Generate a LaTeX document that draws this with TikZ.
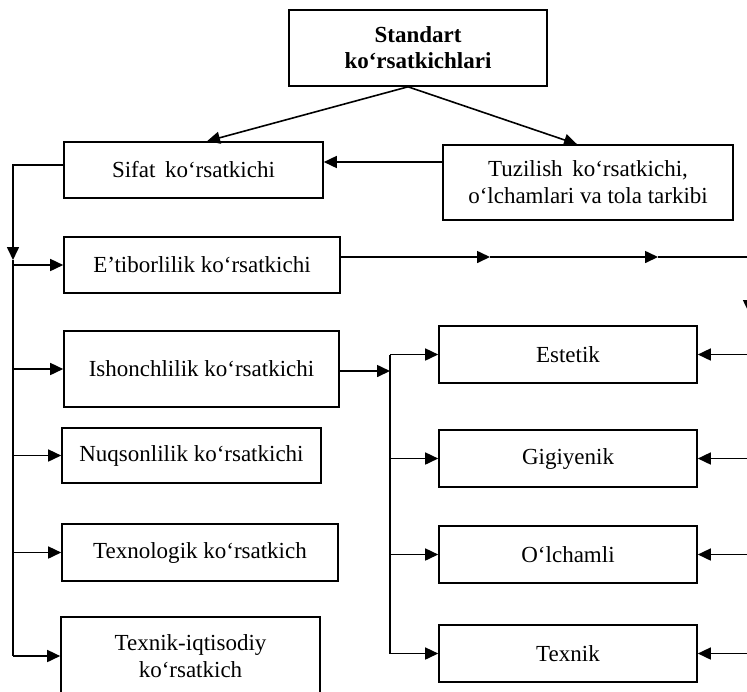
\documentclass[tikz,border=0pt]{standalone}
\usepackage{fontspec}
\setmainfont{Liberation Serif}
\usetikzlibrary{calc,arrows.meta}

\begin{document}
\begin{tikzpicture}[x=0.5pt,y=-0.5pt,line width=0.8pt,
	every node/.style={draw,rectangle,inner sep=0pt,align=center,font=\fontsize{11.5}{13.5}\selectfont},
	arr/.style={-{Triangle[length=6.5pt,width=6pt]}}]
				\useasboundingbox (0,0) rectangle (747,691);
				\clip (0,0) rectangle (747,691);
				%top box and the two boxes under it placed by hand
				\node[minimum width=129pt,minimum height=38pt,font=\fontsize{11.5}{13}\selectfont\bfseries] (st) at (418,48){Standart\\ko‘rsatkichlari};
				\node[minimum width=129.5pt,minimum height=28pt] (sif) at (193.5,170){Sifat\, ko‘rsatkichi};
				\node[minimum width=145pt,minimum height=37.5pt] (tuz) at (588,182.5){Tuzilish\, ko‘rsatkichi,\\o‘lchamlari va tola tarkibi};
				%% left column
				\node[minimum width=138pt,minimum height=28pt] (etib) at (202,265){E’tiborlilik ko‘rsatkichi};
				\node[minimum width=137.5pt,minimum height=38pt] (ish) at (201.5,369){Ishonchlilik ko‘rsatkichi};
				\node[minimum width=129.5pt,minimum height=27.5pt] (nuq) at (191.5,455.5){Nuqsonlilik ko‘rsatkichi};
				\node[minimum width=138pt,minimum height=28.5pt] (txl) at (200,552.5){Texnologik ko‘rsatkich};
				\node[minimum width=129.5pt,minimum height=39.5pt] (txq) at (190.5,656.5){Texnik-iqtisodiy\\ko‘rsatkich};
				%% right column drawn with a loop
				\foreach \n/\t/\y in {est/Estetik/354.5,gig/Gigiyenik/458.5,olch/O‘lchamli/554.5,tex/Texnik/653.5}{
					\node[minimum width=129pt,minimum height=28.5pt] (\n) at (568,\y){\t};
					}
				%% trunk points of the branching lines
				\coordinate (lk) at (13,656);
				\coordinate (ik) at (390,371);
				\coordinate (rk) at (749,257);
				\coordinate (m1) at (490,257);
				\coordinate (m2) at (658,257);
				%% arrows from the top box
				\draw[arr] ([xshift=-5pt]st.south) -- ([xshift=6.75pt]sif.north);
				\draw[arr] ([xshift=-5pt]st.south) -- ([xshift=-5.5pt]tuz.north);
				\draw[arr] ([yshift=10.25pt]tuz.west) -- ([yshift=10.25pt]tuz.west -| sif.east);
				%% left trunk and its branches
				\draw[arr] ([yshift=2.5pt]sif.west) -| (13,260);
				\draw (13,260) -- (lk);
				\foreach \n in {etib,ish,nuq,txl}{
					\draw[arr] (\n.west -| lk) -- (\n.west);
					}
				\draw[arr] (lk) -- (lk -| txq.west);
				%% middle trunk
				\draw[arr] ([yshift=-1pt]ish.east) -- (ik);
				\draw (est.west -| ik) -- (tex.west -| ik);
				%% line out to the right and back
				\draw[arr] ([yshift=4pt]etib.east) -- (m1);
				\draw[arr] (m1) -- (m2);
				\draw (m2) -- (rk);
				\draw[arr] (rk) -- (749,313);
				\draw (749,313) -- (tex.east -| rk);
				\foreach \n in {est,gig,olch,tex}{
					\draw[arr] (\n.west -| ik) -- (\n.west);
					\draw[arr] (\n.east -| rk) -- (\n.east);
					}

				\end{tikzpicture}
\end{document}
